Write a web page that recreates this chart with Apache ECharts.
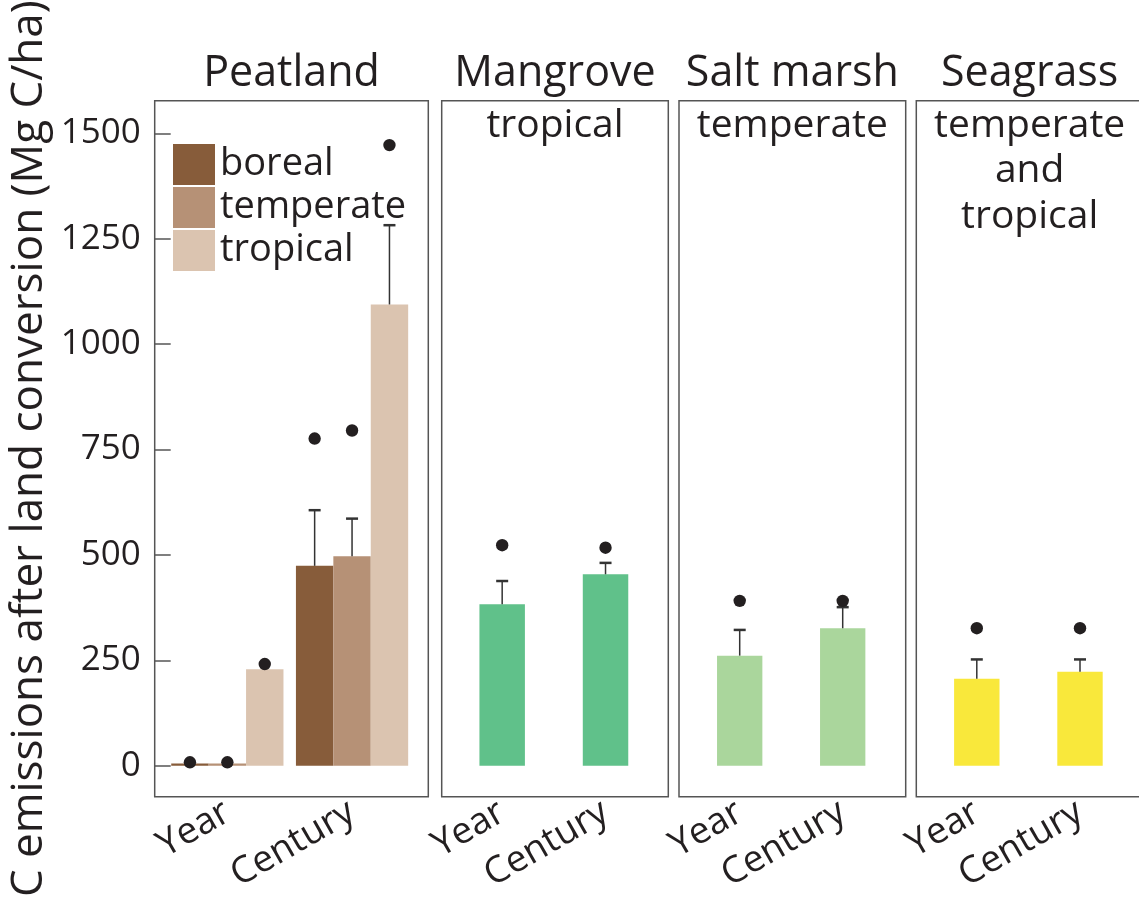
<!DOCTYPE html>
<html>
<head>
<meta charset="utf-8">
<script src="https://cdn.jsdelivr.net/npm/echarts@6/dist/echarts.min.js"></script>
<style>html,body{margin:0;padding:0;background:#fff;}#c{width:1139px;height:902px;}</style>
</head>
<body>
<div id="c"></div>
<script>
// ---- data ----
const categories = ['Year', 'Century'];
const yTicks = [0, 250, 500, 750, 1000, 1250, 1500];
const peatSeriesNames = ['boreal', 'temperate', 'tropical'];
const peatBoreal = [5, 474];
const peatTemperate = [5, 497];
const peatTropical = [229, 1094];
const peatBorealErr = [null, 606];
const peatTemperateErr = [null, 586];
const peatTropicalErr = [null, 1282];
const peatBorealMax = [8, 776];
const peatTemperateMax = [8, 795];
const peatTropicalMax = [241, 1472];
const mangrove = [383, 454];
const mangroveErr = [438, 481];
const mangroveMax = [523, 517];
const saltMarsh = [261, 326];
const saltMarshErr = [322, 376];
const saltMarshMax = [391, 391];
const seagrass = [206, 223];
const seagrassErr = [252, 252];
const seagrassMax = [326, 326];
const panelTitles = ['Peatland', 'Mangrove', 'Salt marsh', 'Seagrass'];
const panelSubtitles = [null, 'tropical', 'temperate', 'temperate\nand\ntropical'];
const yTitle = 'C emissions after land conversion (Mg C/ha)';

// ---- style ----
const FONT = 'Open Sans';
const TXT = '#231f20';
const colors = {
  boreal: '#875c3a', temperate: '#b69176', tropical: '#dbc4b0',
  mangrove: '#60c18a', salt: '#aad69c', seagrass: '#f9e83b'
};
const Y_MIN = -73.6, Y_MAX = 1577.3;
const TOP = 100.7, BOTTOM = 105.3;
const frames = [
  {left: 154.7, right: 710.7},
  {left: 441.7, right: 470.7},
  {left: 679, right: 233.3},
  {left: 916.3, right: -4}
];
const dataGrids = [
  {left: 165, right: 724.6},
  {left: 450.5, right: 481.8},
  {left: 688.2, right: 244.8},
  {left: 925.2, right: 7.4}
];

const grid = [], xAxis = [], yAxis = [];
frames.forEach((f, i) => {
  grid.push({left: f.left, right: f.right, top: TOP, bottom: BOTTOM, show: true,
    outerBoundsMode: 'none', containLabel: false,
    borderColor: '#555', borderWidth: 1.5, backgroundColor: 'transparent', z: 1});
  xAxis.push({type: 'category', gridIndex: i, data: categories, show: false});
  yAxis.push({type: 'value', gridIndex: i, min: Y_MIN, max: Y_MAX, show: i === 0,
    splitLine: {show: false}, axisLine: {show: false},
    axisTick: i === 0 ? {show: true, inside: true, length: 16, customValues: yTicks,
      lineStyle: {color: '#555', width: 1.5}} : {show: false},
    axisLabel: i === 0 ? {show: true, customValues: yTicks, fontFamily: FONT, fontSize: 35,
      color: TXT, margin: 14, formatter: v => String(v)} : {show: false},
    name: i === 0 ? yTitle : '', nameLocation: 'middle', nameRotate: 90, nameGap: 103,
    nameTextStyle: {fontFamily: FONT, fontSize: 44, color: TXT}
  });
});
dataGrids.forEach((g, i) => {
  grid.push({left: g.left, right: g.right, top: TOP, bottom: BOTTOM, show: false,
    outerBoundsMode: 'none', containLabel: false});
  xAxis.push({type: 'category', gridIndex: 4 + i, data: categories,
    axisLine: {show: false}, axisTick: {show: false},
    axisLabel: {rotate: 30, fontFamily: FONT, fontSize: 37, color: TXT, margin: 13, interval: 0}});
  yAxis.push({type: 'value', gridIndex: 4 + i, min: Y_MIN, max: Y_MAX, show: false, splitLine: {show: false}});
});

function markerRender(idx, n, frac) {
  return function (params, api) {
    const c = api.value(0), top = api.value(1), err = api.value(2), mx = api.value(3);
    const band = api.size([1, 0])[0];
    const bw = band * frac / n;
    const off = (idx - (n - 1) / 2) * bw;
    const p0 = api.coord([c, top]);
    const x = p0[0] + off;
    const children = [];
    if (err != null && !isNaN(err)) {
      const pe = api.coord([c, err]);
      children.push({type: 'line', shape: {x1: x, y1: p0[1], x2: x, y2: pe[1]},
        style: {stroke: '#333', lineWidth: 1.5}});
      children.push({type: 'line', shape: {x1: x - 6, y1: pe[1], x2: x + 6, y2: pe[1]},
        style: {stroke: '#333', lineWidth: 2.5}});
    }
    if (mx != null && !isNaN(mx)) {
      const pm = api.coord([c, mx]);
      children.push({type: 'circle', shape: {cx: x, cy: pm[1], r: 6.2}, style: {fill: TXT}});
    }
    return {type: 'group', children};
  };
}
function rows(vals, errs, maxs) {
  return vals.map((v, k) => [k, v, errs[k] == null ? NaN : errs[k], maxs[k]]);
}

const series = [];
const peatVals = [peatBoreal, peatTemperate, peatTropical];
const peatErrs = [peatBorealErr, peatTemperateErr, peatTropicalErr];
const peatMaxs = [peatBorealMax, peatTemperateMax, peatTropicalMax];
const peatColors = [colors.boreal, colors.temperate, colors.tropical];
peatVals.forEach((v, i) => {
  series.push({type: 'bar', name: peatSeriesNames[i], xAxisIndex: 4, yAxisIndex: 4, data: v,
    barGap: '0%', barCategoryGap: '10%', itemStyle: {color: peatColors[i]}, z: 2});
});
peatVals.forEach((v, i) => {
  series.push({type: 'custom', xAxisIndex: 4, yAxisIndex: 4, z: 5,
    renderItem: markerRender(i, 3, 0.9), data: rows(v, peatErrs[i], peatMaxs[i]),
    encode: {x: 0, y: 1}});
});
const singles = [
  {v: mangrove, e: mangroveErr, m: mangroveMax, c: colors.mangrove},
  {v: saltMarsh, e: saltMarshErr, m: saltMarshMax, c: colors.salt},
  {v: seagrass, e: seagrassErr, m: seagrassMax, c: colors.seagrass}
];
singles.forEach((s, j) => {
  const gi = 5 + j;
  series.push({type: 'bar', xAxisIndex: gi, yAxisIndex: gi, data: s.v, barWidth: '44%',
    itemStyle: {color: s.c}, z: 2});
  series.push({type: 'custom', xAxisIndex: gi, yAxisIndex: gi, z: 5,
    renderItem: markerRender(0, 1, 0.44), data: rows(s.v, s.e, s.m), encode: {x: 0, y: 1}});
});

const graphic = [];
frames.forEach((f, i) => {
  const right = 1139 - f.right;
  const cx = (f.left + right) / 2;
  graphic.push({type: 'text', x: cx, y: 74, style: {text: panelTitles[i], fontFamily: FONT,
    fontSize: 43, fill: TXT, textAlign: 'center', textVerticalAlign: 'middle'}});
  if (panelSubtitles[i]) {
    graphic.push({type: 'text', x: cx, y: 103, style: {text: panelSubtitles[i], fontFamily: FONT,
      fontSize: 39, fill: TXT, textAlign: 'center', textVerticalAlign: 'top', lineHeight: 45.5}});
  }
});

const chart = echarts.init(document.getElementById('c'), null, {renderer: 'canvas'});
chart.setOption({
  animation: false,
  backgroundColor: '#fff',
  grid, xAxis, yAxis, series, graphic,
  legend: {data: peatSeriesNames, orient: 'vertical', left: 173, top: 144, padding: 0, icon: 'rect',
    itemWidth: 42, itemHeight: 41, itemGap: 2, itemStyle: {borderWidth: 0},
    textStyle: {fontFamily: FONT, fontSize: 38, color: TXT},
    selectedMode: false}
});
</script>
</body>
</html>
